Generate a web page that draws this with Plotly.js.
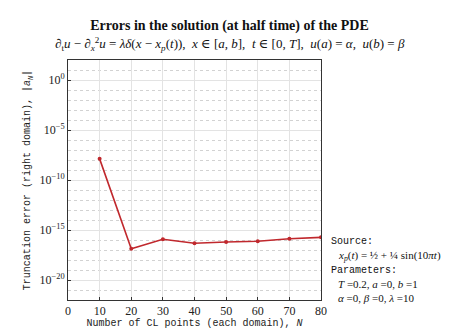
<!DOCTYPE html>
<html>
<head>
<meta charset="utf-8">
<script src="https://cdn.plot.ly/plotly-3.0.1.min.js"></script>
<style>body{margin:0;background:#fff}#chart{width:459px;height:334px}</style>
</head>
<body>
<div id="chart"></div>
<script>
// number of CL points per domain and the truncation error |a_N|
var nPoints = [10, 20, 30, 40, 50, 60, 70, 80];
var truncErr = [1.3e-8, 1.3e-17, 1.2e-16, 4.7e-17, 6.3e-17, 7.4e-17, 1.35e-16, 1.85e-16];
var xTicks = [0, 10, 20, 30, 40, 50, 60, 70, 80];
var yTicks = [1e-20, 1e-15, 1e-10, 1e-5, 1];
var yTickText = ["10<sup>−20</sup>", "10<sup>−15</sup>", "10<sup>−10</sup>", "10<sup>−5</sup>", "10<sup>0</sup>"];

var serif = "Liberation Serif, DejaVu Serif, serif";
var mono = "Liberation Mono, DejaVu Sans Mono, monospace";

var trace = {
    x: nPoints,
    y: truncErr,
    type: "scatter",
    mode: "lines+markers",
    line: { color: "#c0282d", width: 1.6 },
    marker: { color: "#c0282d", size: 4 },
    showlegend: false
};

var layout = {
    width: 459,
    height: 334,
    margin: { l: 68, r: 138, t: 60, b: 34 },
    paper_bgcolor: "#fff",
    plot_bgcolor: "#fff",
    title: {
        text: "<b>Errors in the solution (at half time) of the PDE</b>",
        font: { family: serif, size: 14, color: "#111" },
        x: 0.5, xanchor: "center", y: 0.925, yanchor: "middle"
    },
    xaxis: {
        range: [0, 80],
        tickvals: xTicks,
        ticks: "inside",
        ticklen: 3,
        tickcolor: "#333",
        showline: true,
        linecolor: "#333",
        mirror: true,
        showgrid: true,
        gridcolor: "#e3e3e3",
        zeroline: false,
        tickfont: { family: serif, size: 12, color: "#222" },
        title: {
            text: "Number of CL points (each domain), <i>N</i>",
            font: { family: mono, size: 10, color: "#222" },
            standoff: 0
        }
    },
    yaxis: {
        type: "log",
        range: [-22, 2],
        tickvals: yTicks,
        ticktext: yTickText,
        ticks: "inside",
        ticklen: 3,
        tickcolor: "#333",
        showline: true,
        linecolor: "#333",
        mirror: true,
        showgrid: true,
        gridcolor: "#e3e3e3",
        zeroline: false,
        minor: { dtick: 1, showgrid: true, gridcolor: "#d2d2d2", griddash: "dot", ticks: "" },
        tickfont: { family: serif, size: 12, color: "#222" },
        title: {
            text: "Truncation error (right domain), |<i>a<sub>N</sub></i>|",
            font: { family: mono, size: 10, color: "#222" },
            standoff: 6
        }
    },
    annotations: [
        {
            text: "∂<sub>t</sub><i>u</i> − ∂<sub><i>x</i></sub><sup>2</sup><i>u</i> = <i>λδ</i>(<i>x</i> − <i>x<sub>p</sub></i>(<i>t</i>)),  <i>x</i> ∈ [<i>a</i>, <i>b</i>],  <i>t</i> ∈ [0, <i>T</i>],  <i>u</i>(<i>a</i>) = <i>α</i>,  <i>u</i>(<i>b</i>) = <i>β</i>",
            xref: "paper", yref: "paper", x: 0.5, y: 1.0 + 16 / 240, xanchor: "center", yanchor: "middle",
            xshift: 35, showarrow: false,
            font: { family: serif, size: 13, color: "#111" }
        },
        {
            text: "Source:", xref: "paper", yref: "paper", x: 1.03, y: (300 - 241) / 240,
            xanchor: "left", yanchor: "middle", showarrow: false,
            font: { family: mono, size: 10, color: "#111" }
        },
        {
            text: "<i>x<sub>p</sub></i>(<i>t</i>) = ½ + ¼ sin(10<i>πt</i>)", xref: "paper", yref: "paper", x: 1.06, y: (300 - 256) / 240,
            xanchor: "left", yanchor: "middle", showarrow: false,
            font: { family: serif, size: 11, color: "#111" }
        },
        {
            text: "Parameters:", xref: "paper", yref: "paper", x: 1.03, y: (300 - 270) / 240,
            xanchor: "left", yanchor: "middle", showarrow: false,
            font: { family: mono, size: 10, color: "#111" }
        },
        {
            text: "<i>T</i> =0.2, <i>a</i> =0, <i>b</i> =1", xref: "paper", yref: "paper", x: 1.06, y: (300 - 284) / 240,
            xanchor: "left", yanchor: "middle", showarrow: false,
            font: { family: serif, size: 11, color: "#111" }
        },
        {
            text: "<i>α</i> =0, <i>β</i> =0, <i>λ</i> =10", xref: "paper", yref: "paper", x: 1.06, y: (300 - 298) / 240,
            xanchor: "left", yanchor: "middle", showarrow: false,
            font: { family: serif, size: 11, color: "#111" }
        }
    ]
};

Plotly.newPlot("chart", [trace], layout, { displayModeBar: false, staticPlot: true });
</script>
</body>
</html>
